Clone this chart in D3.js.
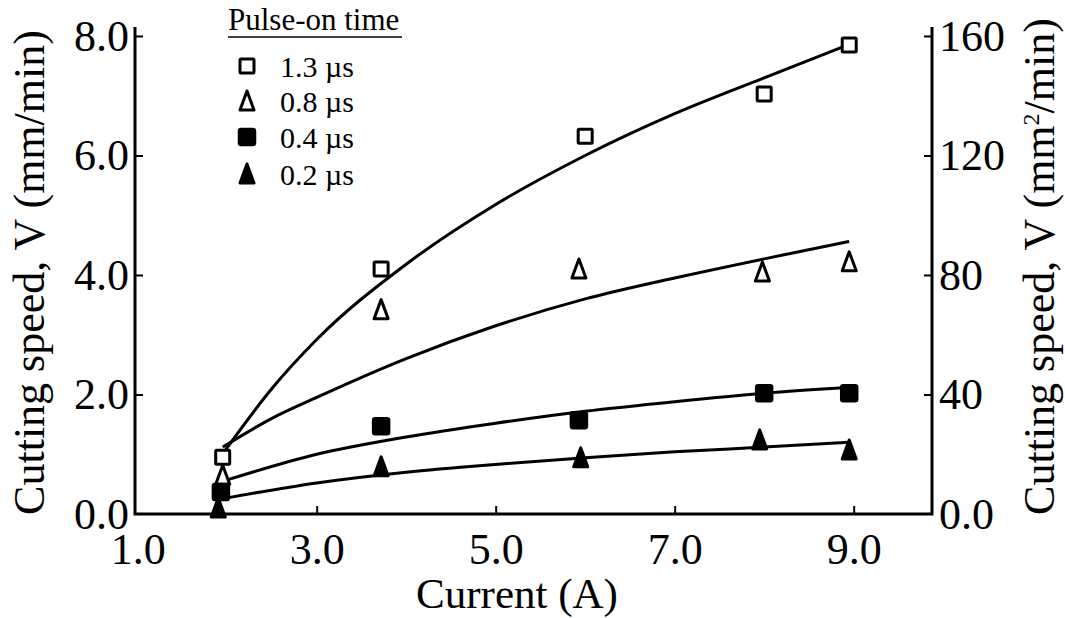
<!DOCTYPE html>
<html>
<head>
<meta charset="utf-8">
<script src="https://cdn.jsdelivr.net/npm/d3@7"></script>
<style>
  body { margin: 0; background: #fff; }
  text { font-family: "Liberation Serif", "Times New Roman", serif; fill: #000; }
</style>
</head>
<body>
<svg width="1065" height="618"></svg>
<script>
// pulse-on time series, measured points
var series = ["1.3 \u00b5s", "0.8 \u00b5s", "0.4 \u00b5s", "0.2 \u00b5s"];
var symbols = ["openSquare", "openTriangle", "square", "triangle"];

var x13 = [1.95, 3.72, 6.0, 8.0, 8.95],  v13 = [0.95, 4.1, 6.32, 7.03, 7.85];
var x08 = [1.95, 3.72, 5.93, 7.98, 8.95], v08 = [0.65, 3.42, 4.1, 4.05, 4.22];
var x04 = [1.93, 3.72, 5.93, 8.0, 8.95],  v04 = [0.37, 1.47, 1.57, 2.02, 2.02];
var x02 = [1.9, 3.72, 5.95, 7.95, 8.95],  v02 = [0.1, 0.79, 0.94, 1.24, 1.07];

// fitted trend lines
var fitX13 = [1.97, 2.5, 3, 4, 5, 6, 7, 8, 8.95], fit13 = [1.05, 2.1, 2.92, 4.18, 5.18, 6.0, 6.7, 7.3, 7.86];
var fitX08 = [1.95, 2.5, 3, 4, 5, 6, 7, 8, 8.95], fit08 = [1.12, 1.6, 1.95, 2.6, 3.15, 3.6, 3.95, 4.27, 4.56];
var fitX04 = [2.0, 3, 4, 5, 6, 7, 8, 8.95], fit04 = [0.57, 1.0, 1.29, 1.52, 1.72, 1.88, 2.02, 2.12];
var fitX02 = [2.0, 3, 4, 5, 6, 7, 8, 8.95], fit02 = [0.27, 0.52, 0.7, 0.83, 0.94, 1.04, 1.12, 1.2];

var xTicks = [1, 3, 5, 7, 9];
var yTicks = [0, 2, 4, 6, 8];
var y2Ticks = [0, 40, 80, 120, 160];

var svg = d3.select("svg"),
    pLeft = 135, pRight = 932, pTop = 27, pBottom = 514;

var x = d3.scaleLinear().domain([0.97, 9.875]).range([pLeft, pRight]),
    y = d3.scaleLinear().domain([0, 8.15]).range([pBottom, pTop]),
    y2 = d3.scaleLinear().domain([0, 163]).range([pBottom, pTop]);

var g = svg.append("g");

// axes
var axisBottom = g.append("g")
    .attr("transform", "translate(0," + pBottom + ")")
    .call(d3.axisBottom(x).tickValues(xTicks).tickSize(-8).tickPadding(19).tickFormat(d3.format(".1f")));
var axisLeft = g.append("g")
    .attr("transform", "translate(" + pLeft + ",0)")
    .call(d3.axisLeft(y).tickValues(yTicks).tickSize(-8).tickPadding(6).tickFormat(d3.format(".1f")));
var axisRight = g.append("g")
    .attr("transform", "translate(" + pRight + ",0)")
    .call(d3.axisRight(y2).tickValues(y2Ticks).tickSize(-8).tickPadding(7)
      .tickFormat(function(d) { return d === 0 ? "0.0" : d; }));

[axisBottom, axisLeft, axisRight].forEach(function(a) {
  a.select(".domain").remove();
  a.selectAll(".tick line").attr("stroke", "#000").attr("stroke-width", 2);
  a.selectAll(".tick text").style("font-size", "44px").attr("fill", "#000");
});
axisBottom.selectAll(".tick").filter(function(d) { return d === 1; }).select("line").remove();
axisLeft.selectAll(".tick").filter(function(d) { return d === 0; }).select("line").remove();
axisRight.selectAll(".tick").filter(function(d) { return d === 0; }).select("line").remove();

g.append("path")
    .attr("d", "M" + pLeft + "," + pTop + "V" + pBottom + "H" + pRight + "V" + pTop)
    .attr("fill", "none").attr("stroke", "#000").attr("stroke-width", 3);

// axis titles
svg.append("text")
    .attr("x", 517).attr("y", 608)
    .attr("text-anchor", "middle").style("font-size", "43px")
    .text("Current (A)");

svg.append("text")
    .attr("transform", "translate(44," + ((pTop + pBottom) / 2 + 2) + ") rotate(-90)")
    .attr("text-anchor", "middle").style("font-size", "44px")
    .text("Cutting speed, V (mm/min)");

var rt = svg.append("text")
    .attr("transform", "translate(1054," + ((pTop + pBottom) / 2 - 4) + ") rotate(-90)")
    .attr("text-anchor", "middle").style("font-size", "44px");
rt.append("tspan").text("Cutting speed, V (mm");
rt.append("tspan").attr("dy", -15).style("font-size", "24px").text("2");
rt.append("tspan").attr("dy", 15).text("/min)");

// fitted curves
var line = d3.line()
    .curve(d3.curveMonotoneX)
    .x(function(d) { return x(d[0]); })
    .y(function(d) { return y(d[1]); });

var fits = [[fitX13, fit13], [fitX08, fit08], [fitX04, fit04], [fitX02, fit02]];
g.selectAll(".fit")
  .data(fits)
  .enter().append("path")
    .attr("class", "fit")
    .attr("fill", "none")
    .attr("stroke", "#000")
    .attr("stroke-width", 3)
    .attr("d", function(f) { return line(d3.zip(f[0], f[1])); });

// markers
function drawSymbol(sel, type) {
  if (type === "openSquare") {
    sel.append("rect")
        .attr("x", -7).attr("y", -7).attr("width", 14).attr("height", 14)
        .attr("rx", 1)
        .attr("fill", "#fff").attr("stroke", "#000").attr("stroke-width", 3);
  } else if (type === "square") {
    sel.append("rect")
        .attr("x", -8).attr("y", -8).attr("width", 16).attr("height", 16)
        .attr("rx", 2)
        .attr("fill", "#000").attr("stroke", "#000").attr("stroke-width", 2.5);
  } else {
    sel.append("path")
        .attr("d", "M0,-10L7,9L-7,9Z")
        .attr("fill", type === "triangle" ? "#000" : "#fff")
        .attr("stroke", "#000").attr("stroke-width", 3)
        .attr("stroke-linejoin", "round");
  }
}

var points = [[x13, v13], [x08, v08], [x04, v04], [x02, v02]];
points.forEach(function(p, i) {
  g.selectAll(".pt" + i)
    .data(d3.zip(p[0], p[1]))
    .enter().append("g")
      .attr("class", "pt" + i)
      .attr("transform", function(d) { return "translate(" + x(d[0]) + "," + y(d[1]) + ")"; })
      .each(function() { drawSymbol(d3.select(this), symbols[i]); });
});

// legend
var legend = svg.append("g");
legend.append("text")
    .attr("x", 228).attr("y", 30)
    .style("font-size", "31px")
    .text("Pulse-on time");
legend.append("line")
    .attr("x1", 228).attr("x2", 402).attr("y1", 37).attr("y2", 37)
    .attr("stroke", "#000").attr("stroke-width", 1.5);

var rowY = [66, 101, 137, 174];
series.forEach(function(s, i) {
  var row = legend.append("g").attr("transform", "translate(0," + rowY[i] + ")");
  var m = row.append("g").attr("transform", "translate(247,0)");
  drawSymbol(m, symbols[i]);
  row.append("text")
      .attr("x", 280).attr("y", 11)
      .style("font-size", "30px")
      .text(s);
});
</script>
</body>
</html>
